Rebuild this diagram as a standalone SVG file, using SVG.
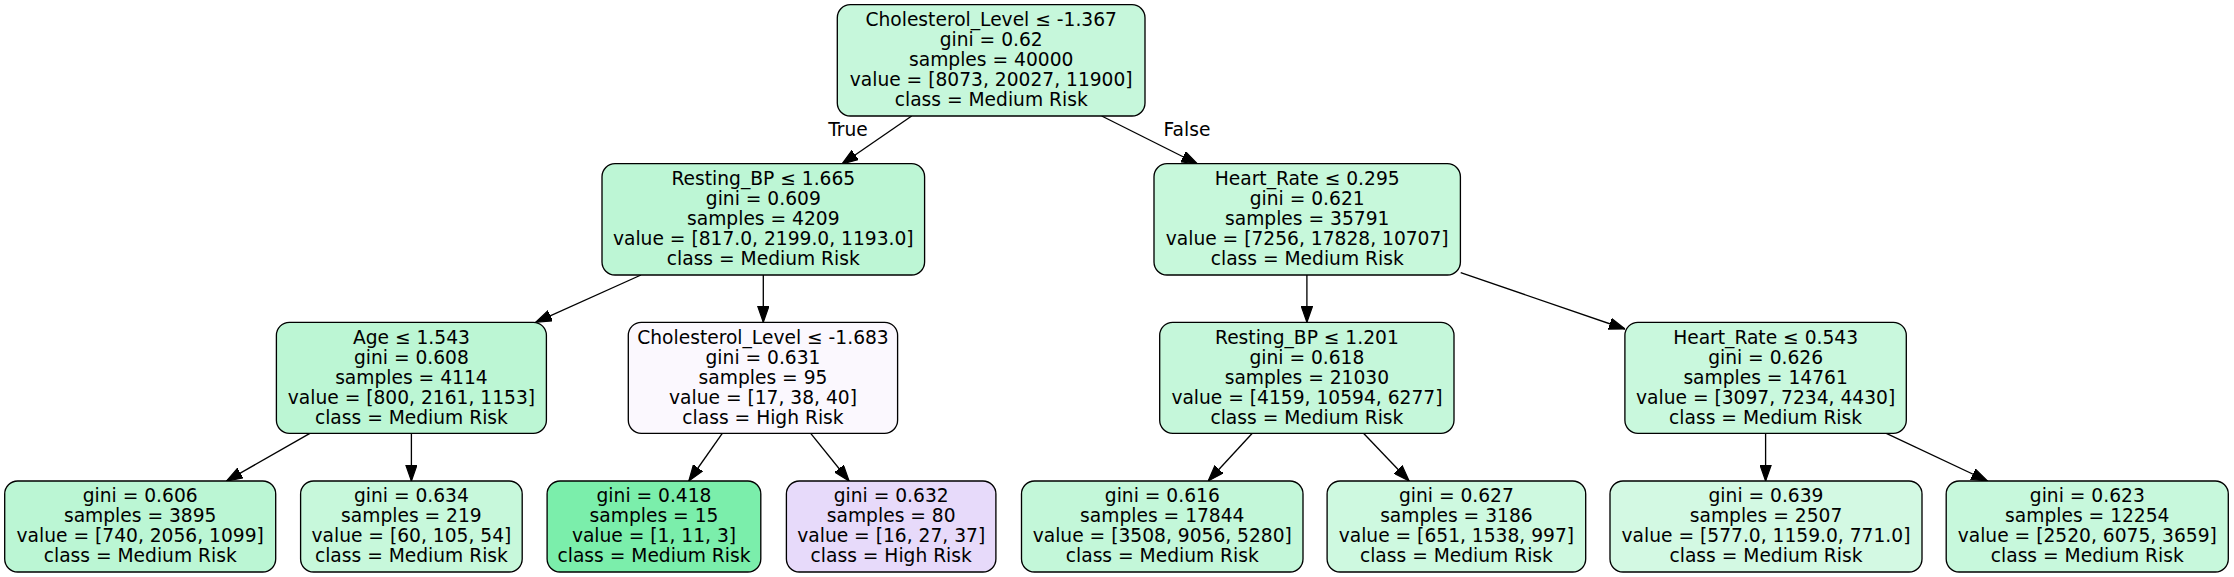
<svg xmlns="http://www.w3.org/2000/svg" width="2234" height="577" viewBox="0 0 2234 577">
<style>
.box{stroke:#000;stroke-width:1.33}
text{font-family:"DejaVu Sans",Verdana,sans-serif;font-size:18.67px;text-anchor:middle;fill:#000}
.edge{stroke:#000;stroke-width:1.33;fill:none;marker-end:url(#arr)}
</style>
<defs>
<marker id="arr" markerUnits="userSpaceOnUse" markerWidth="16" markerHeight="12" refX="13.33" refY="4.67" orient="auto" viewBox="0 0 13.33 9.33">
<path d="M0,0 L13.33,4.67 L0,9.33 Z" fill="#000" stroke="#000" stroke-width="1"/>
</marker>
</defs>
<rect x="0" y="0" width="2234" height="577" fill="#fff"/>
<g id="connectors">
<line class="edge" x1="911.7" y1="116" x2="842" y2="164"/>
<line class="edge" x1="1101.7" y1="116" x2="1197.5" y2="164"/>
<line class="edge" x1="641" y1="275" x2="535.7" y2="322.3"/>
<line class="edge" x1="763.3" y1="275" x2="763.3" y2="322.3"/>
<line class="edge" x1="1306.9" y1="275" x2="1306.9" y2="322.3"/>
<line class="edge" x1="1460.7" y1="272.7" x2="1625" y2="329"/>
<line class="edge" x1="309.9" y1="433.3" x2="226.5" y2="481"/>
<line class="edge" x1="411.4" y1="433.3" x2="411.4" y2="481"/>
<line class="edge" x1="722.3" y1="433.3" x2="688.8" y2="481"/>
<line class="edge" x1="810.7" y1="433.3" x2="849.1" y2="481"/>
<line class="edge" x1="1252.3" y1="433.3" x2="1208.2" y2="481"/>
<line class="edge" x1="1363.5" y1="433.3" x2="1409.1" y2="481"/>
<line class="edge" x1="1765.6" y1="433.3" x2="1765.6" y2="481"/>
<line class="edge" x1="1886.3" y1="433.3" x2="1987.5" y2="481"/>
<text x="848" y="136">True</text>
<text x="1187" y="136">False</text>
</g>
<g id="n0">
<rect class="box" x="837.3" y="4.67" width="307.7" height="111.33" rx="13" fill="#c6f7db"/>
<text x="991.2" y="26">Cholesterol_Level ≤ -1.367</text>
<text x="991.2" y="46">gini = 0.62</text>
<text x="991.2" y="66">samples = 40000</text>
<text x="991.2" y="86">value = [8073, 20027, 11900]</text>
<text x="991.2" y="106">class = Medium Risk</text>
</g>
<g id="n1">
<rect class="box" x="602" y="163.67" width="322.6" height="111.33" rx="13" fill="#bdf6d5"/>
<text x="763.3" y="185">Resting_BP ≤ 1.665</text>
<text x="763.3" y="205">gini = 0.609</text>
<text x="763.3" y="225">samples = 4209</text>
<text x="763.3" y="245">value = [817.0, 2199.0, 1193.0]</text>
<text x="763.3" y="265">class = Medium Risk</text>
</g>
<g id="n8">
<rect class="box" x="1154" y="163.67" width="306.4" height="111.33" rx="13" fill="#c7f8db"/>
<text x="1307.2" y="185">Heart_Rate ≤ 0.295</text>
<text x="1307.2" y="205">gini = 0.621</text>
<text x="1307.2" y="225">samples = 35791</text>
<text x="1307.2" y="245">value = [7256, 17828, 10707]</text>
<text x="1307.2" y="265">class = Medium Risk</text>
</g>
<g id="n2">
<rect class="box" x="276.4" y="322.33" width="270" height="111" rx="13" fill="#bcf6d4"/>
<text x="411.4" y="343.6">Age ≤ 1.543</text>
<text x="411.4" y="363.6">gini = 0.608</text>
<text x="411.4" y="383.6">samples = 4114</text>
<text x="411.4" y="403.6">value = [800, 2161, 1153]</text>
<text x="411.4" y="423.6">class = Medium Risk</text>
</g>
<g id="n5">
<rect class="box" x="628.3" y="322.33" width="269.3" height="111" rx="13" fill="#fbf8fe"/>
<text x="763" y="343.6">Cholesterol_Level ≤ -1.683</text>
<text x="763" y="363.6">gini = 0.631</text>
<text x="763" y="383.6">samples = 95</text>
<text x="763" y="403.6">value = [17, 38, 40]</text>
<text x="763" y="423.6">class = High Risk</text>
</g>
<g id="n9">
<rect class="box" x="1159.7" y="322.33" width="294.3" height="111" rx="13" fill="#c5f7da"/>
<text x="1306.9" y="343.6">Resting_BP ≤ 1.201</text>
<text x="1306.9" y="363.6">gini = 0.618</text>
<text x="1306.9" y="383.6">samples = 21030</text>
<text x="1306.9" y="403.6">value = [4159, 10594, 6277]</text>
<text x="1306.9" y="423.6">class = Medium Risk</text>
</g>
<g id="n12">
<rect class="box" x="1624.9" y="322.33" width="281.4" height="111" rx="13" fill="#c9f8dd"/>
<text x="1765.6" y="343.6">Heart_Rate ≤ 0.543</text>
<text x="1765.6" y="363.6">gini = 0.626</text>
<text x="1765.6" y="383.6">samples = 14761</text>
<text x="1765.6" y="403.6">value = [3097, 7234, 4430]</text>
<text x="1765.6" y="423.6">class = Medium Risk</text>
</g>
<g id="n3">
<rect class="box" x="4.7" y="481" width="271" height="91" rx="13" fill="#bbf6d4"/>
<text x="140.2" y="502">gini = 0.606</text>
<text x="140.2" y="522">samples = 3895</text>
<text x="140.2" y="542">value = [740, 2056, 1099]</text>
<text x="140.2" y="562">class = Medium Risk</text>
</g>
<g id="n4">
<rect class="box" x="300.6" y="481" width="221.6" height="91" rx="13" fill="#c7f8db"/>
<text x="411.4" y="502">gini = 0.634</text>
<text x="411.4" y="522">samples = 219</text>
<text x="411.4" y="542">value = [60, 105, 54]</text>
<text x="411.4" y="562">class = Medium Risk</text>
</g>
<g id="n6">
<rect class="box" x="547.1" y="481" width="213.7" height="91" rx="13" fill="#7beeab"/>
<text x="654" y="502">gini = 0.418</text>
<text x="654" y="522">samples = 15</text>
<text x="654" y="542">value = [1, 11, 3]</text>
<text x="654" y="562">class = Medium Risk</text>
</g>
<g id="n7">
<rect class="box" x="786.4" y="481" width="209.5" height="91" rx="13" fill="#e7dafa"/>
<text x="891.2" y="502">gini = 0.632</text>
<text x="891.2" y="522">samples = 80</text>
<text x="891.2" y="542">value = [16, 27, 37]</text>
<text x="891.2" y="562">class = High Risk</text>
</g>
<g id="n10">
<rect class="box" x="1021.5" y="481" width="281.5" height="91" rx="13" fill="#c3f7d9"/>
<text x="1162.3" y="502">gini = 0.616</text>
<text x="1162.3" y="522">samples = 17844</text>
<text x="1162.3" y="542">value = [3508, 9056, 5280]</text>
<text x="1162.3" y="562">class = Medium Risk</text>
</g>
<g id="n11">
<rect class="box" x="1327.1" y="481" width="258.6" height="91" rx="13" fill="#cef9e0"/>
<text x="1456.4" y="502">gini = 0.627</text>
<text x="1456.4" y="522">samples = 3186</text>
<text x="1456.4" y="542">value = [651, 1538, 997]</text>
<text x="1456.4" y="562">class = Medium Risk</text>
</g>
<g id="n13">
<rect class="box" x="1610" y="481" width="312" height="91" rx="13" fill="#d3f9e3"/>
<text x="1766" y="502">gini = 0.639</text>
<text x="1766" y="522">samples = 2507</text>
<text x="1766" y="542">value = [577.0, 1159.0, 771.0]</text>
<text x="1766" y="562">class = Medium Risk</text>
</g>
<g id="n14">
<rect class="box" x="1946.2" y="481" width="282.1" height="91" rx="13" fill="#c7f8dc"/>
<text x="2087.3" y="502">gini = 0.623</text>
<text x="2087.3" y="522">samples = 12254</text>
<text x="2087.3" y="542">value = [2520, 6075, 3659]</text>
<text x="2087.3" y="562">class = Medium Risk</text>
</g>
</svg>
